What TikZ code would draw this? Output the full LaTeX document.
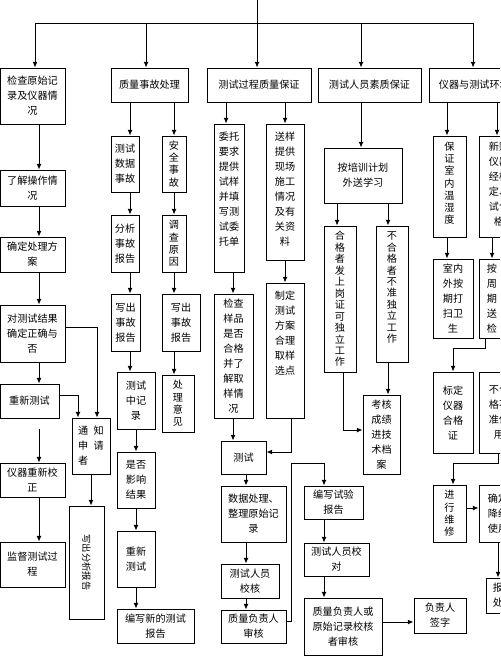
\documentclass[tikz,border=0pt]{standalone}
\usepackage{fontspec}
\newfontfamily\cjk{Noto Sans CJK SC}
\usetikzlibrary{arrows.meta}
\newcommand\mybox[7][]{\node[box,#1,minimum width={(#5-#3)*0.75pt},minimum height={(#6-#4)*0.75pt}] (#2) at ({(#3+#5)/2},{(#4+#6)/2}) {#7};}
\newcommand\myboxT[8][]{\node[box,minimum width={(#5-#3)*0.75pt},minimum height={(#6-#4)*0.75pt}] (#2) at ({(#3+#5)/2},{(#4+#6)/2}) {};
\node[txt,#1,anchor=north] (#2t) at ([yshift=-#7*0.75pt]#2.north) {#8};}
\tikzset{
 box/.style={draw, line width=0.7pt, inner sep=0pt, align=center, font=\cjk\fontsize{7.6}{11.25}\selectfont},
 txt/.style={inner sep=0pt, align=center, font=\cjk\fontsize{7.6}{11.25}\selectfont},
 stk/.style={font=\cjk\fontsize{7.6}{9.2}\selectfont},
 stk2/.style={font=\cjk\fontsize{7.6}{8.6}\selectfont},
 arr/.style={-{Latex[length=4.2pt,width=3.6pt]}, line width=0.7pt},
 ln/.style={line width=0.7pt}
}
\begin{document}
\begin{tikzpicture}[x=0.75pt,y=-0.75pt]
\useasboundingbox (0,0) rectangle (500,656);
\clip (0,0) rectangle (500,656);
% top row
\mybox{b1}{0}{68}{65}{124}{检查原始记\\录及仪器情\\况}
\mybox{b2}{111}{68}{188}{102}{质量事故处理}
\mybox{b3}{207}{68}{311}{102}{测试过程质量保证}
\mybox{b4}{318}{68}{421}{102}{测试人员素质保证}
\mybox{b5}{429}{68}{540}{102}{仪器与测试环境保证}
% column 1
\mybox{c1a}{0}{170}{65}{206}{了解操作情\\况}
\mybox{c1b}{0}{237}{65}{272}{确定处理方\\案}
\mybox{c1c}{0}{305}{65}{362}{对测试结果\\确定正确与\\否}
\mybox{c1d}{0}{384}{59}{418}{重新测试}
\mybox{c1e}{0}{463}{65}{497}{仪器重新校\\正}
\mybox{c1f}{0}{542}{65}{587}{监督测试过\\程}
\mybox[align=left]{notify}{72}{418}{110}{474}{通\hspace{4pt}知\\申\hspace{4pt}请\\者}
\mybox{fx}{69}{506}{104}{619}{}
\node[txt,rotate=-90,font=\cjk\fontsize{7}{9}\selectfont] (fxt) at (fx.center) {写出分析报告};
% column 2
\mybox{d1}{111}{136}{139}{192}{测试\\数据\\事故}
\mybox[stk]{d2}{162}{136}{186}{192}{安\\全\\事\\故}
\mybox{d3}{111}{215}{139}{272}{分析\\事故\\报告}
\mybox[stk]{d4}{162}{215}{186}{272}{调\\查\\原\\因}
\mybox{d5}{111}{294}{140}{351}{写出\\事故\\报告}
\mybox{d6}{162}{294}{200}{351}{写出\\事故\\报告}
\mybox{d7}{117}{372}{155}{429}{测试\\中记\\录}
\mybox[stk]{d8}{162}{375}{194}{432}{处\\理\\意\\见}
\mybox{d9}{117}{452}{155}{508}{是否\\影响\\结果}
\mybox{d10}{117}{531}{155}{587}{重新\\测试}
\mybox{d11}{117}{609}{194}{643}{编写新的测试\\报告}
% column 3
\myboxT{e1}{214}{124}{244}{272}{8}{委托\\要求\\提供\\试样\\并填\\写测\\试委\\托单}
\myboxT{e2}{266}{124}{304}{260}{8}{送样\\提供\\现场\\施工\\情况\\及有\\关资\\料}
\mybox{e3}{214}{294}{253}{418}{检查\\样品\\是否\\合格\\并了\\解取\\样情\\况}
\myboxT{e4}{266}{283}{304}{418}{8}{制定\\测试\\方案\\合理\\取样\\选点}
\mybox{e5}{221}{441}{266}{474}{测试}
\mybox{e6}{221}{486}{286}{542}{数据处理、\\整理原始记\\录}
\mybox{e7}{221}{564}{279}{598}{测试人员\\校核}
\mybox{e8}{221}{610}{286}{643}{质量负责人\\审核}
\mybox{e9}{304}{486}{363}{519}{编写试验\\报告}
\mybox{e10}{304}{543}{369}{576}{测试人员校\\对}
\mybox{e11}{304}{598}{382}{655}{质量负责人或\\原始记录校核\\者审核}
\mybox{e12}{414}{598}{466}{633}{负责人\\签字}
% column 4
\mybox{f1}{324}{148}{402}{203}{按培训计划\\外送学习}
\mybox[stk2]{f2}{324}{226}{356}{372}{合\\格\\者\\发\\上\\岗\\证\\可\\独\\立\\工\\作}
\myboxT[stk2]{f3}{376}{226}{408}{362}{6}{不\\合\\格\\者\\不\\准\\独\\立\\工\\作}
\mybox{f4}{363}{395}{400}{474}{考核\\成绩\\进技\\术档\\案}
% column 5
\myboxT[stk]{g1}{433}{136}{466}{237}{6}{保\\证\\室\\内\\温\\湿\\度}
\myboxT{g2}{479}{136}{519}{237}{6}{新购\\仪器\\经检\\定、\\试合\\格}
\mybox{g3}{433}{259}{473}{338}{室内\\外按\\期打\\扫卫\\生}
\mybox{g4}{479}{259}{505}{338}{按\\周\\期\\送\\检}
\mybox{g5}{433}{372}{473}{453}{标定\\仪器\\合格\\证}
\mybox{g6}{479}{372}{519}{453}{不合\\格不\\准使\\用}
\mybox[stk]{g7}{433}{485}{466}{542}{进\\行\\维\\修}
\mybox{g8}{479}{485}{517}{542}{确定\\降级\\使用}
\mybox{g9}{486}{578}{520}{613}{报废\\处理}
% top distribution
\coordinate (top) at (257,0);
\coordinate (hL) at (35,23);
\coordinate (hR) at (473,23);
\coordinate (h2) at (146,23);
\coordinate (h4) at (361,23);
\draw[ln] (hL) -- (hR);
\draw[arr] (top) -- (top |- b3.north);
\draw[arr] (hL) -- (hL |- b1.north);
\draw[arr] (h2) -- (h2 |- b2.north);
\draw[arr] (h4) -- (h4 |- b4.north);
\draw[arr] (hR) -- (hR |- b5.north);
% column 1 connectors
\coordinate (k1) at (39,0);
\draw[arr] (b1.south -| k1) -- (c1a.north -| k1);
\draw[arr] (c1a.south -| k1) -- (c1b.north -| k1);
\draw[arr] (c1b.south -| k1) -- (c1c.north -| k1);
\draw[arr] (c1c.south -| k1) -- (c1d.north -| k1);
\draw[arr,shorten <=8.25pt] (c1d.south -| k1) -- (c1e.north -| k1);
\draw[arr] (c1e.south -| k1) -- (c1f.north -| k1);
\coordinate (n1) at (97,327);
\coordinate (n2) at (78,395);
\draw[arr] (c1c.east |- n1) -- (n1) -- (n1 |- notify.north);
\draw[arr] (c1d.east |- n2) -- (n2) -- (n2 |- notify.north);
\draw[arr] (notify.south) -- (notify.south |- fx.north);
% column 2 connectors
\coordinate (k2a) at (130,0);
\coordinate (k2b) at (174,0);
\coordinate (k2c) at (136,0);
\draw[arr] (b2.south -| k2a) -- (d1.north -| k2a);
\draw[arr] (b2.south -| k2b) -- (d2.north -| k2b);
\draw[arr] (d1.south -| k2a) -- (d3.north -| k2a);
\draw[arr] (d2.south -| k2b) -- (d4.north -| k2b);
\draw[arr] (d3.south -| k2a) -- (d5.north -| k2a);
\draw[arr] (d4.south -| k2b) -- (d6.north -| k2b);
\draw[arr] (d5.south -| k2a) -- (d7.north -| k2a);
\draw[arr] (d6.south -| k2b) -- (d8.north -| k2b);
\draw[arr] (d7.south -| k2c) -- (d9.north -| k2c);
\draw[arr] (d9.south -| k2c) -- (d10.north -| k2c);
\draw[arr] (d10.south -| k2c) -- (d11.north -| k2c);
% column 3 connectors
\coordinate (k3a) at (226,0);
\coordinate (k3b) at (285,0);
\coordinate (k3c) at (233,0);
\coordinate (k3d) at (246,0);
\coordinate (k3f) at (324,0);
\draw[arr] (b3.south -| k3a) -- (e1.north -| k3a);
\draw[arr] (b3.south -| k3b) -- (e2.north -| k3b);
\draw[arr] (e1.south -| k3c) -- (e3.north -| k3c);
\draw[arr] (e2.south -| k3b) -- (e4.north -| k3b);
\draw[arr] (e3.south -| k3c) -- (e5.north -| k3c);
\coordinate (j1) at (291,452);
\draw[arr] (e4.south -| j1) -- (j1) -- (j1 -| e5.east);
\draw[arr] (e5.south -| k3d) -- (e6.north -| k3d);
\draw[arr] (e6.south -| k3d) -- (e7.north -| k3d);
\draw[arr] (e7.south -| k3d) -- (e8.north -| k3d);
\coordinate (j2) at (291,621);
\coordinate (j3) at (291,463);
\coordinate (j4) at (324,463);
\draw[arr] (e8.east |- j2) -- (j2) -- (j3) -- (j4) -- (j4 |- e9.north);
\draw[arr] (e9.south -| k3f) -- (e10.north -| k3f);
\draw[arr] (e10.south -| k3f) -- (e11.north -| k3f);
\coordinate (j5) at (0,622);
\draw[arr] (e11.east |- j5) -- (e12.west |- j5);
% column 4 connectors
\coordinate (k4b) at (337,0);
\coordinate (k4c) at (388,0);
\draw[arr] (b4.south -| h4) -- (f1.north -| h4);
\draw[arr] (f1.south -| k4b) -- (f2.north -| k4b);
\draw[arr] (f1.south -| k4c) -- (f3.north -| k4c);
\draw[arr] (f3.south -| k4c) -- (f4.north -| k4c);
\coordinate (j6) at (343,430);
\draw[arr] (f2.south -| j6) -- (j6) -- (j6 -| f4.west);
% column 5 connectors
\coordinate (k5a) at (447,0);
\coordinate (k5b) at (497,0);
\coordinate (k5c) at (492,0);
\draw[arr] (b5.south -| k5a) -- (g1.north -| k5a);
\draw[arr] (b5.south -| k5b) -- (g2.north -| k5b);
\draw[arr] (g1.south -| k5a) -- (g3.north -| k5a);
\draw[arr] (g2.south -| k5c) -- (g4.north -| k5c);
\coordinate (j7) at (485,348);
\coordinate (j8) at (453,348);
\draw[arr] (g4.south -| j7) -- (j7) -- (j8) -- (j8 |- g5.north);
\coordinate (j9) at (498,463);
\coordinate (j10) at (453,463);
\draw[arr] (g6.south -| j9) -- (j9) -- (j10) -- (j10 |- g7.north);
\coordinate (j11) at (0,508);
\draw[arr] (g7.east |- j11) -- (g8.west |- j11);
\draw[arr] (g8.south -| j9) -- (g9.north -| j9);
\end{tikzpicture}
\end{document}
